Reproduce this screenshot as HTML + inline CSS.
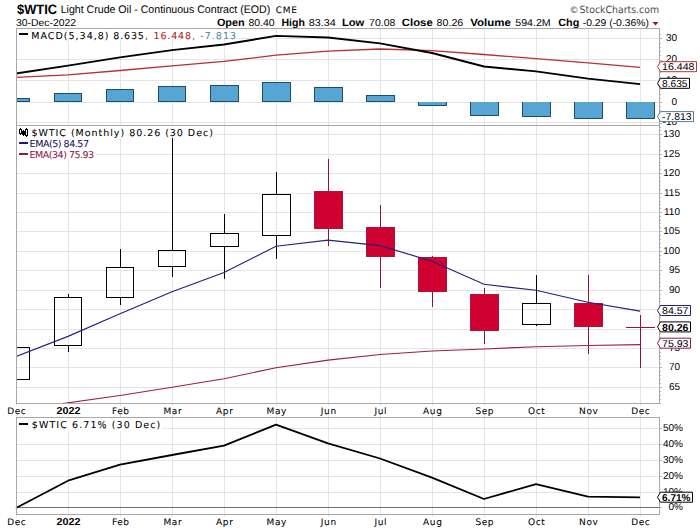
<!DOCTYPE html>
<html><head><meta charset="utf-8"><title>$WTIC Light Crude Oil - StockCharts</title>
<style>html,body{margin:0;padding:0;background:#fff;}svg{display:block;}</style></head>
<body><svg width="700" height="530" viewBox="0 0 700 530" shape-rendering="auto" text-rendering="geometricPrecision">
<rect width="700" height="530" fill="#fff"/>
<text x="17" y="13.5" font-family="'Liberation Sans', Arial, sans-serif" font-size="13.6" fill="#000" font-weight="bold" text-anchor="start" textLength="40" lengthAdjust="spacingAndGlyphs">$WTIC</text>
<text x="60.7" y="13" font-family="'Liberation Sans', Arial, sans-serif" font-size="11" fill="#000" font-weight="normal" text-anchor="start" textLength="209.5" lengthAdjust="spacingAndGlyphs">Light Crude Oil - Continuous Contract (EOD)</text>
<text x="275.8" y="13" font-family="'DejaVu Sans', Verdana, sans-serif" font-size="9" fill="#000" font-weight="normal" text-anchor="start" textLength="21.2" lengthAdjust="spacing" stroke="#000" stroke-width="0.06">CME</text>
<text x="569.6" y="12.6" font-family="'DejaVu Sans', Verdana, sans-serif" font-size="9" fill="#555" font-weight="normal" text-anchor="start" stroke="#555" stroke-width="0.06">&#169;</text>
<text x="579.6" y="12.6" font-family="'DejaVu Sans', Verdana, sans-serif" font-size="10" fill="#555" font-weight="normal" text-anchor="start" textLength="79.4" lengthAdjust="spacingAndGlyphs" stroke="#555" stroke-width="0.06">StockCharts.com</text>
<text x="16" y="25.7" font-family="'Liberation Sans', Arial, sans-serif" font-size="10" fill="#000" font-weight="normal" text-anchor="start" textLength="60" lengthAdjust="spacingAndGlyphs">30-Dec-2022</text>
<text x="216.9" y="25.5" font-family="'Liberation Sans', Arial, sans-serif" font-size="10.5" fill="#000" font-weight="bold" text-anchor="start" textLength="27.8" lengthAdjust="spacingAndGlyphs">Open</text>
<text x="248.4" y="25.5" font-family="'Liberation Sans', Arial, sans-serif" font-size="10" fill="#000" font-weight="normal" text-anchor="start" textLength="26.3" lengthAdjust="spacingAndGlyphs">80.40</text>
<text x="281.5" y="25.5" font-family="'Liberation Sans', Arial, sans-serif" font-size="10.5" fill="#000" font-weight="bold" text-anchor="start" textLength="23.4" lengthAdjust="spacingAndGlyphs">High</text>
<text x="308.7" y="25.5" font-family="'Liberation Sans', Arial, sans-serif" font-size="10" fill="#000" font-weight="normal" text-anchor="start" textLength="27.0" lengthAdjust="spacingAndGlyphs">83.34</text>
<text x="341.9" y="25.5" font-family="'Liberation Sans', Arial, sans-serif" font-size="10.5" fill="#000" font-weight="bold" text-anchor="start" textLength="22.4" lengthAdjust="spacingAndGlyphs">Low</text>
<text x="369.1" y="25.5" font-family="'Liberation Sans', Arial, sans-serif" font-size="10" fill="#000" font-weight="normal" text-anchor="start" textLength="26.3" lengthAdjust="spacingAndGlyphs">70.08</text>
<text x="401.8" y="25.5" font-family="'Liberation Sans', Arial, sans-serif" font-size="10.5" fill="#000" font-weight="bold" text-anchor="start" textLength="30.9" lengthAdjust="spacingAndGlyphs">Close</text>
<text x="436.6" y="25.5" font-family="'Liberation Sans', Arial, sans-serif" font-size="10" fill="#000" font-weight="normal" text-anchor="start" textLength="26.7" lengthAdjust="spacingAndGlyphs">80.26</text>
<text x="470.2" y="25.5" font-family="'Liberation Sans', Arial, sans-serif" font-size="10.5" fill="#000" font-weight="bold" text-anchor="start" textLength="40.7" lengthAdjust="spacingAndGlyphs">Volume</text>
<text x="515.3" y="25.5" font-family="'Liberation Sans', Arial, sans-serif" font-size="10" fill="#000" font-weight="normal" text-anchor="start" textLength="35.4" lengthAdjust="spacingAndGlyphs">594.2M</text>
<text x="558.3" y="25.5" font-family="'Liberation Sans', Arial, sans-serif" font-size="10.5" fill="#000" font-weight="bold" text-anchor="start" textLength="21.0" lengthAdjust="spacingAndGlyphs">Chg</text>
<text x="582.7" y="25.5" font-family="'Liberation Sans', Arial, sans-serif" font-size="10" fill="#000" font-weight="normal" text-anchor="start" textLength="66.3" lengthAdjust="spacingAndGlyphs">-0.29 (-0.36%)</text>
<path d="M652.5 22 L658.5 22 L655.5 25.5 Z" fill="#8b1a3a"/>
<line x1="68.5" y1="28" x2="68.5" y2="125" stroke="#e5e5e5" stroke-width="1"/>
<line x1="120.5" y1="28" x2="120.5" y2="125" stroke="#e5e5e5" stroke-width="1"/>
<line x1="172.5" y1="28" x2="172.5" y2="125" stroke="#e5e5e5" stroke-width="1"/>
<line x1="224.5" y1="28" x2="224.5" y2="125" stroke="#e5e5e5" stroke-width="1"/>
<line x1="276.5" y1="28" x2="276.5" y2="125" stroke="#e5e5e5" stroke-width="1"/>
<line x1="328.5" y1="28" x2="328.5" y2="125" stroke="#e5e5e5" stroke-width="1"/>
<line x1="380.5" y1="28" x2="380.5" y2="125" stroke="#e5e5e5" stroke-width="1"/>
<line x1="432.5" y1="28" x2="432.5" y2="125" stroke="#e5e5e5" stroke-width="1"/>
<line x1="484.5" y1="28" x2="484.5" y2="125" stroke="#e5e5e5" stroke-width="1"/>
<line x1="536.5" y1="28" x2="536.5" y2="125" stroke="#e5e5e5" stroke-width="1"/>
<line x1="588.5" y1="28" x2="588.5" y2="125" stroke="#e5e5e5" stroke-width="1"/>
<line x1="640.5" y1="28" x2="640.5" y2="125" stroke="#e5e5e5" stroke-width="1"/>
<line x1="16" y1="38.5" x2="659" y2="38.5" stroke="#e5e5e5" stroke-width="1"/>
<line x1="16" y1="59.5" x2="659" y2="59.5" stroke="#e5e5e5" stroke-width="1"/>
<line x1="16" y1="80.5" x2="659" y2="80.5" stroke="#e5e5e5" stroke-width="1"/>
<line x1="16" y1="102.5" x2="659" y2="102.5" stroke="#e5e5e5" stroke-width="1"/>
<line x1="16" y1="122.5" x2="659" y2="122.5" stroke="#e5e5e5" stroke-width="1"/>
<line x1="68.5" y1="125" x2="68.5" y2="403" stroke="#e5e5e5" stroke-width="1"/>
<line x1="120.5" y1="125" x2="120.5" y2="403" stroke="#e5e5e5" stroke-width="1"/>
<line x1="172.5" y1="125" x2="172.5" y2="403" stroke="#e5e5e5" stroke-width="1"/>
<line x1="224.5" y1="125" x2="224.5" y2="403" stroke="#e5e5e5" stroke-width="1"/>
<line x1="276.5" y1="125" x2="276.5" y2="403" stroke="#e5e5e5" stroke-width="1"/>
<line x1="328.5" y1="125" x2="328.5" y2="403" stroke="#e5e5e5" stroke-width="1"/>
<line x1="380.5" y1="125" x2="380.5" y2="403" stroke="#e5e5e5" stroke-width="1"/>
<line x1="432.5" y1="125" x2="432.5" y2="403" stroke="#e5e5e5" stroke-width="1"/>
<line x1="484.5" y1="125" x2="484.5" y2="403" stroke="#e5e5e5" stroke-width="1"/>
<line x1="536.5" y1="125" x2="536.5" y2="403" stroke="#e5e5e5" stroke-width="1"/>
<line x1="588.5" y1="125" x2="588.5" y2="403" stroke="#e5e5e5" stroke-width="1"/>
<line x1="640.5" y1="125" x2="640.5" y2="403" stroke="#e5e5e5" stroke-width="1"/>
<line x1="16" y1="134.5" x2="659" y2="134.5" stroke="#e5e5e5" stroke-width="1"/>
<line x1="16" y1="154.5" x2="659" y2="154.5" stroke="#e5e5e5" stroke-width="1"/>
<line x1="16" y1="173.5" x2="659" y2="173.5" stroke="#e5e5e5" stroke-width="1"/>
<line x1="16" y1="193.5" x2="659" y2="193.5" stroke="#e5e5e5" stroke-width="1"/>
<line x1="16" y1="212.5" x2="659" y2="212.5" stroke="#e5e5e5" stroke-width="1"/>
<line x1="16" y1="231.5" x2="659" y2="231.5" stroke="#e5e5e5" stroke-width="1"/>
<line x1="16" y1="251.5" x2="659" y2="251.5" stroke="#e5e5e5" stroke-width="1"/>
<line x1="16" y1="270.5" x2="659" y2="270.5" stroke="#e5e5e5" stroke-width="1"/>
<line x1="16" y1="290.5" x2="659" y2="290.5" stroke="#e5e5e5" stroke-width="1"/>
<line x1="16" y1="309.5" x2="659" y2="309.5" stroke="#e5e5e5" stroke-width="1"/>
<line x1="16" y1="329.5" x2="659" y2="329.5" stroke="#e5e5e5" stroke-width="1"/>
<line x1="16" y1="348.5" x2="659" y2="348.5" stroke="#e5e5e5" stroke-width="1"/>
<line x1="16" y1="367.5" x2="659" y2="367.5" stroke="#e5e5e5" stroke-width="1"/>
<line x1="16" y1="387.5" x2="659" y2="387.5" stroke="#e5e5e5" stroke-width="1"/>
<line x1="68.5" y1="417" x2="68.5" y2="514" stroke="#e5e5e5" stroke-width="1"/>
<line x1="120.5" y1="417" x2="120.5" y2="514" stroke="#e5e5e5" stroke-width="1"/>
<line x1="172.5" y1="417" x2="172.5" y2="514" stroke="#e5e5e5" stroke-width="1"/>
<line x1="224.5" y1="417" x2="224.5" y2="514" stroke="#e5e5e5" stroke-width="1"/>
<line x1="276.5" y1="417" x2="276.5" y2="514" stroke="#e5e5e5" stroke-width="1"/>
<line x1="328.5" y1="417" x2="328.5" y2="514" stroke="#e5e5e5" stroke-width="1"/>
<line x1="380.5" y1="417" x2="380.5" y2="514" stroke="#e5e5e5" stroke-width="1"/>
<line x1="432.5" y1="417" x2="432.5" y2="514" stroke="#e5e5e5" stroke-width="1"/>
<line x1="484.5" y1="417" x2="484.5" y2="514" stroke="#e5e5e5" stroke-width="1"/>
<line x1="536.5" y1="417" x2="536.5" y2="514" stroke="#e5e5e5" stroke-width="1"/>
<line x1="588.5" y1="417" x2="588.5" y2="514" stroke="#e5e5e5" stroke-width="1"/>
<line x1="640.5" y1="417" x2="640.5" y2="514" stroke="#e5e5e5" stroke-width="1"/>
<line x1="16" y1="428.5" x2="659" y2="428.5" stroke="#e5e5e5" stroke-width="1"/>
<line x1="16" y1="444.5" x2="659" y2="444.5" stroke="#e5e5e5" stroke-width="1"/>
<line x1="16" y1="460.5" x2="659" y2="460.5" stroke="#e5e5e5" stroke-width="1"/>
<line x1="16" y1="476.5" x2="659" y2="476.5" stroke="#e5e5e5" stroke-width="1"/>
<line x1="16" y1="492.5" x2="659" y2="492.5" stroke="#e5e5e5" stroke-width="1"/>
<line x1="16" y1="507.5" x2="659" y2="507.5" stroke="#707070" stroke-width="1"/>
<line x1="16.5" y1="403" x2="16.5" y2="406" stroke="#e5e5e5"/>
<line x1="16.5" y1="414" x2="16.5" y2="417" stroke="#e5e5e5"/>
<line x1="16.5" y1="514" x2="16.5" y2="517" stroke="#e5e5e5"/>
<line x1="68.5" y1="403" x2="68.5" y2="406" stroke="#e5e5e5"/>
<line x1="68.5" y1="414" x2="68.5" y2="417" stroke="#e5e5e5"/>
<line x1="68.5" y1="514" x2="68.5" y2="517" stroke="#e5e5e5"/>
<line x1="120.5" y1="403" x2="120.5" y2="406" stroke="#e5e5e5"/>
<line x1="120.5" y1="414" x2="120.5" y2="417" stroke="#e5e5e5"/>
<line x1="120.5" y1="514" x2="120.5" y2="517" stroke="#e5e5e5"/>
<line x1="172.5" y1="403" x2="172.5" y2="406" stroke="#e5e5e5"/>
<line x1="172.5" y1="414" x2="172.5" y2="417" stroke="#e5e5e5"/>
<line x1="172.5" y1="514" x2="172.5" y2="517" stroke="#e5e5e5"/>
<line x1="224.5" y1="403" x2="224.5" y2="406" stroke="#e5e5e5"/>
<line x1="224.5" y1="414" x2="224.5" y2="417" stroke="#e5e5e5"/>
<line x1="224.5" y1="514" x2="224.5" y2="517" stroke="#e5e5e5"/>
<line x1="276.5" y1="403" x2="276.5" y2="406" stroke="#e5e5e5"/>
<line x1="276.5" y1="414" x2="276.5" y2="417" stroke="#e5e5e5"/>
<line x1="276.5" y1="514" x2="276.5" y2="517" stroke="#e5e5e5"/>
<line x1="328.5" y1="403" x2="328.5" y2="406" stroke="#e5e5e5"/>
<line x1="328.5" y1="414" x2="328.5" y2="417" stroke="#e5e5e5"/>
<line x1="328.5" y1="514" x2="328.5" y2="517" stroke="#e5e5e5"/>
<line x1="380.5" y1="403" x2="380.5" y2="406" stroke="#e5e5e5"/>
<line x1="380.5" y1="414" x2="380.5" y2="417" stroke="#e5e5e5"/>
<line x1="380.5" y1="514" x2="380.5" y2="517" stroke="#e5e5e5"/>
<line x1="432.5" y1="403" x2="432.5" y2="406" stroke="#e5e5e5"/>
<line x1="432.5" y1="414" x2="432.5" y2="417" stroke="#e5e5e5"/>
<line x1="432.5" y1="514" x2="432.5" y2="517" stroke="#e5e5e5"/>
<line x1="484.5" y1="403" x2="484.5" y2="406" stroke="#e5e5e5"/>
<line x1="484.5" y1="414" x2="484.5" y2="417" stroke="#e5e5e5"/>
<line x1="484.5" y1="514" x2="484.5" y2="517" stroke="#e5e5e5"/>
<line x1="536.5" y1="403" x2="536.5" y2="406" stroke="#e5e5e5"/>
<line x1="536.5" y1="414" x2="536.5" y2="417" stroke="#e5e5e5"/>
<line x1="536.5" y1="514" x2="536.5" y2="517" stroke="#e5e5e5"/>
<line x1="588.5" y1="403" x2="588.5" y2="406" stroke="#e5e5e5"/>
<line x1="588.5" y1="414" x2="588.5" y2="417" stroke="#e5e5e5"/>
<line x1="588.5" y1="514" x2="588.5" y2="517" stroke="#e5e5e5"/>
<line x1="640.5" y1="403" x2="640.5" y2="406" stroke="#e5e5e5"/>
<line x1="640.5" y1="414" x2="640.5" y2="417" stroke="#e5e5e5"/>
<line x1="640.5" y1="514" x2="640.5" y2="517" stroke="#e5e5e5"/>
<g>
<rect x="16.5" y="98.5" width="13" height="3.0" fill="#56a5d2" stroke="#1e4d6b" stroke-width="1"/>
<rect x="54.5" y="93.5" width="27" height="8.0" fill="#56a5d2" stroke="#1e4d6b" stroke-width="1"/>
<rect x="106.5" y="89.5" width="27" height="12.0" fill="#56a5d2" stroke="#1e4d6b" stroke-width="1"/>
<rect x="158.5" y="86.5" width="27" height="15.0" fill="#56a5d2" stroke="#1e4d6b" stroke-width="1"/>
<rect x="210.5" y="85.5" width="28" height="16.0" fill="#56a5d2" stroke="#1e4d6b" stroke-width="1"/>
<rect x="262.5" y="82.5" width="28" height="19.0" fill="#56a5d2" stroke="#1e4d6b" stroke-width="1"/>
<rect x="314.5" y="87.5" width="28" height="14.0" fill="#56a5d2" stroke="#1e4d6b" stroke-width="1"/>
<rect x="366.5" y="95.5" width="28" height="6.0" fill="#56a5d2" stroke="#1e4d6b" stroke-width="1"/>
<rect x="418.0" y="102" width="29" height="4" fill="#56a5d2"/>
<path d="M418.5 102 L418.5 105.5 L446.5 105.5 L446.5 102" fill="none" stroke="#1e4d6b" stroke-width="1"/>
<rect x="470.0" y="102" width="29" height="14" fill="#56a5d2"/>
<path d="M470.5 102 L470.5 115.5 L498.5 115.5 L498.5 102" fill="none" stroke="#1e4d6b" stroke-width="1"/>
<rect x="522.0" y="102" width="29" height="15" fill="#56a5d2"/>
<path d="M522.5 102 L522.5 116.5 L550.5 116.5 L550.5 102" fill="none" stroke="#1e4d6b" stroke-width="1"/>
<rect x="574.0" y="102" width="29" height="17" fill="#56a5d2"/>
<path d="M574.5 102 L574.5 118.5 L602.5 118.5 L602.5 102" fill="none" stroke="#1e4d6b" stroke-width="1"/>
<rect x="626.0" y="102" width="29" height="17" fill="#56a5d2"/>
<path d="M626.5 102 L626.5 118.5 L654.5 118.5 L654.5 102" fill="none" stroke="#1e4d6b" stroke-width="1"/>
</g>
<polyline points="16,77.4 68,74.8 120,70.5 172,65.9 224,61.3 276,55.2 328,51.2 380,49.0 432,50.6 484,54.5 536,58.6 588,62.8 640,67.4" fill="none" stroke="#b83030" stroke-width="1.3"/>
<polyline points="16,73.5 68,65.6 120,57.4 172,50.2 224,44.5 276,35.9 328,37.5 380,43.4 432,53 484,66.5 536,71.4 588,78.7 640,84.2" fill="none" stroke="#000" stroke-width="1.85" stroke-linejoin="round"/>
<svg x="17" y="126" width="642" height="277" overflow="hidden"><g transform="translate(-17,-126)">
<rect x="2.5" y="347.5" width="27" height="32" fill="none" stroke="#000" stroke-width="1"/>
<line x1="68.5" y1="294" x2="68.5" y2="297" stroke="#000" stroke-width="1"/>
<line x1="68.5" y1="346" x2="68.5" y2="352" stroke="#000" stroke-width="1"/>
<rect x="54.5" y="297.5" width="27" height="48" fill="none" stroke="#000" stroke-width="1"/>
<line x1="120.5" y1="249" x2="120.5" y2="267" stroke="#000" stroke-width="1"/>
<line x1="120.5" y1="298" x2="120.5" y2="305" stroke="#000" stroke-width="1"/>
<rect x="106.5" y="267.5" width="27" height="30" fill="none" stroke="#000" stroke-width="1"/>
<line x1="172.5" y1="138" x2="172.5" y2="250" stroke="#000" stroke-width="1"/>
<line x1="172.5" y1="267" x2="172.5" y2="277" stroke="#000" stroke-width="1"/>
<rect x="158.5" y="250.5" width="27" height="16" fill="none" stroke="#000" stroke-width="1"/>
<line x1="224.5" y1="214" x2="224.5" y2="233" stroke="#000" stroke-width="1"/>
<line x1="224.5" y1="247" x2="224.5" y2="279" stroke="#000" stroke-width="1"/>
<rect x="210.5" y="233.5" width="28" height="13" fill="none" stroke="#000" stroke-width="1"/>
<line x1="276.5" y1="172" x2="276.5" y2="194" stroke="#000" stroke-width="1"/>
<line x1="276.5" y1="236" x2="276.5" y2="259" stroke="#000" stroke-width="1"/>
<rect x="262.5" y="194.5" width="28" height="41" fill="none" stroke="#000" stroke-width="1"/>
<line x1="328.5" y1="159" x2="328.5" y2="246" stroke="#8b1538" stroke-width="1"/>
<rect x="314.5" y="191.5" width="28" height="37" fill="#d00030" stroke="#a8163c" stroke-width="1"/>
<line x1="380.5" y1="205" x2="380.5" y2="288" stroke="#8b1538" stroke-width="1"/>
<rect x="366.5" y="227.5" width="28" height="29" fill="#d00030" stroke="#a8163c" stroke-width="1"/>
<line x1="432.5" y1="256" x2="432.5" y2="307" stroke="#8b1538" stroke-width="1"/>
<rect x="418.5" y="257.5" width="28" height="34" fill="#d00030" stroke="#a8163c" stroke-width="1"/>
<line x1="484.5" y1="288" x2="484.5" y2="344" stroke="#8b1538" stroke-width="1"/>
<rect x="470.5" y="294.5" width="28" height="36" fill="#d00030" stroke="#a8163c" stroke-width="1"/>
<line x1="536.5" y1="275" x2="536.5" y2="303" stroke="#000" stroke-width="1"/>
<line x1="536.5" y1="325" x2="536.5" y2="326" stroke="#000" stroke-width="1"/>
<rect x="522.5" y="303.5" width="28" height="21" fill="none" stroke="#000" stroke-width="1"/>
<line x1="588.5" y1="275" x2="588.5" y2="354" stroke="#8b1538" stroke-width="1"/>
<rect x="574.5" y="303.5" width="28" height="23" fill="#d00030" stroke="#a8163c" stroke-width="1"/>
<line x1="640.5" y1="315" x2="640.5" y2="368" stroke="#8b1538" stroke-width="1"/>
<rect x="626" y="327" width="29" height="1" fill="#a01040"/>
<polyline points="16,410 68,402.8 120,395.5 172,387.3 224,378.7 276,367.8 328,360.1 380,354.5 432,351 484,349 536,346.7 588,345.5 640,344.6" fill="none" stroke="#9a1e48" stroke-width="1.15"/>
<polyline points="16,356.4 68,336.4 120,313.8 172,291.8 224,272.5 276,246.3 328,240.2 380,245.6 432,261.2 484,284.3 536,290.3 588,302.3 640,311.1" fill="none" stroke="#22227a" stroke-width="1.15"/>
</g></svg>
<polyline points="16,508.0 68,480.7 120,464.6 172,455.0 224,445.7 276,424.6 328,443.4 380,458.5 432,477.7 484,499.0 536,484.1 588,496.7 640,497.3" fill="none" stroke="#000" stroke-width="1.8" stroke-linejoin="round"/>
<rect x="16.5" y="28.5" width="643" height="97" fill="none" stroke="#a8a8a8"/>
<rect x="16.5" y="125.5" width="643" height="278" fill="none" stroke="#a8a8a8"/>
<rect x="16.5" y="417.5" width="643" height="97" fill="none" stroke="#a8a8a8"/>
<rect x="17" y="29" width="220" height="10" fill="#fff"/>
<rect x="19" y="33" width="9" height="2" fill="#000"/>
<text y="38.6" font-family="'DejaVu Sans', Verdana, sans-serif" font-size="9.5" stroke="#000" stroke-width="0.06"><tspan x="31.3" textLength="77.2" lengthAdjust="spacing">MACD(5,34,8)</tspan><tspan x="113.3" textLength="30.6" lengthAdjust="spacing">8.635</tspan><tspan x="145" fill="#b02020" stroke="#b02020">,</tspan><tspan x="153.6" fill="#b02020" stroke="#b02020" textLength="37.4" lengthAdjust="spacing">16.448</tspan><tspan x="192" fill="#4a86a8" stroke="#4a86a8">,</tspan><tspan x="200.3" fill="#4a86a8" stroke="#4a86a8" textLength="35.7" lengthAdjust="spacing">-7.813</tspan></text>
<rect x="17" y="126" width="197" height="12" fill="#fff"/>
<rect x="17" y="138" width="75" height="11" fill="#fff"/>
<rect x="17" y="149" width="79" height="10" fill="#fff"/>
<g fill="#000"><rect x="19" y="129" width="3" height="5"/><rect x="20" y="128" width="1" height="7"/><rect x="22" y="131" width="3" height="4"/><rect x="23" y="130" width="1" height="6"/><rect x="25" y="129" width="3" height="7"/><rect x="26" y="128" width="1" height="9"/></g><g fill="#fff"><rect x="20" y="130" width="1" height="3"/><rect x="26" y="130" width="1" height="5"/></g>
<text x="31.4" y="135.6" font-family="'DejaVu Sans', Verdana, sans-serif" font-size="9.5" fill="#000" font-weight="normal" text-anchor="start" textLength="181.5" lengthAdjust="spacing" stroke="#000" stroke-width="0.06">$WTIC (Monthly) 80.26 (30 Dec)</text>
<rect x="19" y="142" width="9" height="2" fill="#1a1a80"/>
<text x="29.6" y="146.7" font-family="'DejaVu Sans', Verdana, sans-serif" font-size="9.5" fill="#15155c" font-weight="normal" text-anchor="start" textLength="59.4" lengthAdjust="spacing" stroke="#15155c" stroke-width="0.06">EMA(5) 84.57</text>
<rect x="19" y="153" width="9" height="2" fill="#8b1a4a"/>
<text x="29.6" y="157.6" font-family="'DejaVu Sans', Verdana, sans-serif" font-size="9.5" fill="#8b1a4a" font-weight="normal" text-anchor="start" textLength="64.5" lengthAdjust="spacing" stroke="#8b1a4a" stroke-width="0.06">EMA(34) 75.93</text>
<rect x="17" y="418" width="145" height="13" fill="#fff"/>
<rect x="19" y="423" width="9" height="2" fill="#000"/>
<text x="31.8" y="427.6" font-family="'DejaVu Sans', Verdana, sans-serif" font-size="9.5" fill="#000" font-weight="normal" text-anchor="start" textLength="128.5" lengthAdjust="spacing" stroke="#000" stroke-width="0.06">$WTIC 6.71% (30 Dec)</text>
<text x="16.8" y="413.6" font-family="'DejaVu Sans', Verdana, sans-serif" font-size="9" fill="#000" font-weight="normal" text-anchor="middle" letter-spacing="0.6" stroke="#000" stroke-width="0.06">Dec</text>
<text x="68.5" y="413.6" font-family="'Liberation Sans', Arial, sans-serif" font-size="10" fill="#000" font-weight="bold" text-anchor="middle" textLength="24" lengthAdjust="spacingAndGlyphs">2022</text>
<text x="120.8" y="413.6" font-family="'DejaVu Sans', Verdana, sans-serif" font-size="9" fill="#000" font-weight="normal" text-anchor="middle" letter-spacing="0.6" stroke="#000" stroke-width="0.06">Feb</text>
<text x="172.8" y="413.6" font-family="'DejaVu Sans', Verdana, sans-serif" font-size="9" fill="#000" font-weight="normal" text-anchor="middle" letter-spacing="0.6" stroke="#000" stroke-width="0.06">Mar</text>
<text x="224.8" y="413.6" font-family="'DejaVu Sans', Verdana, sans-serif" font-size="9" fill="#000" font-weight="normal" text-anchor="middle" letter-spacing="0.6" stroke="#000" stroke-width="0.06">Apr</text>
<text x="276.8" y="413.6" font-family="'DejaVu Sans', Verdana, sans-serif" font-size="9" fill="#000" font-weight="normal" text-anchor="middle" letter-spacing="0.6" stroke="#000" stroke-width="0.06">May</text>
<text x="328.8" y="413.6" font-family="'DejaVu Sans', Verdana, sans-serif" font-size="9" fill="#000" font-weight="normal" text-anchor="middle" letter-spacing="0.6" stroke="#000" stroke-width="0.06">Jun</text>
<text x="380.8" y="413.6" font-family="'DejaVu Sans', Verdana, sans-serif" font-size="9" fill="#000" font-weight="normal" text-anchor="middle" letter-spacing="0.6" stroke="#000" stroke-width="0.06">Jul</text>
<text x="432.8" y="413.6" font-family="'DejaVu Sans', Verdana, sans-serif" font-size="9" fill="#000" font-weight="normal" text-anchor="middle" letter-spacing="0.6" stroke="#000" stroke-width="0.06">Aug</text>
<text x="484.8" y="413.6" font-family="'DejaVu Sans', Verdana, sans-serif" font-size="9" fill="#000" font-weight="normal" text-anchor="middle" letter-spacing="0.6" stroke="#000" stroke-width="0.06">Sep</text>
<text x="536.8" y="413.6" font-family="'DejaVu Sans', Verdana, sans-serif" font-size="9" fill="#000" font-weight="normal" text-anchor="middle" letter-spacing="0.6" stroke="#000" stroke-width="0.06">Oct</text>
<text x="588.8" y="413.6" font-family="'DejaVu Sans', Verdana, sans-serif" font-size="9" fill="#000" font-weight="normal" text-anchor="middle" letter-spacing="0.6" stroke="#000" stroke-width="0.06">Nov</text>
<text x="640.8" y="413.6" font-family="'DejaVu Sans', Verdana, sans-serif" font-size="9" fill="#000" font-weight="normal" text-anchor="middle" letter-spacing="0.6" stroke="#000" stroke-width="0.06">Dec</text>
<text x="16.8" y="524.5" font-family="'DejaVu Sans', Verdana, sans-serif" font-size="9" fill="#000" font-weight="normal" text-anchor="middle" letter-spacing="0.6" stroke="#000" stroke-width="0.06">Dec</text>
<text x="68.5" y="524.5" font-family="'Liberation Sans', Arial, sans-serif" font-size="10" fill="#000" font-weight="bold" text-anchor="middle" textLength="24" lengthAdjust="spacingAndGlyphs">2022</text>
<text x="120.8" y="524.5" font-family="'DejaVu Sans', Verdana, sans-serif" font-size="9" fill="#000" font-weight="normal" text-anchor="middle" letter-spacing="0.6" stroke="#000" stroke-width="0.06">Feb</text>
<text x="172.8" y="524.5" font-family="'DejaVu Sans', Verdana, sans-serif" font-size="9" fill="#000" font-weight="normal" text-anchor="middle" letter-spacing="0.6" stroke="#000" stroke-width="0.06">Mar</text>
<text x="224.8" y="524.5" font-family="'DejaVu Sans', Verdana, sans-serif" font-size="9" fill="#000" font-weight="normal" text-anchor="middle" letter-spacing="0.6" stroke="#000" stroke-width="0.06">Apr</text>
<text x="276.8" y="524.5" font-family="'DejaVu Sans', Verdana, sans-serif" font-size="9" fill="#000" font-weight="normal" text-anchor="middle" letter-spacing="0.6" stroke="#000" stroke-width="0.06">May</text>
<text x="328.8" y="524.5" font-family="'DejaVu Sans', Verdana, sans-serif" font-size="9" fill="#000" font-weight="normal" text-anchor="middle" letter-spacing="0.6" stroke="#000" stroke-width="0.06">Jun</text>
<text x="380.8" y="524.5" font-family="'DejaVu Sans', Verdana, sans-serif" font-size="9" fill="#000" font-weight="normal" text-anchor="middle" letter-spacing="0.6" stroke="#000" stroke-width="0.06">Jul</text>
<text x="432.8" y="524.5" font-family="'DejaVu Sans', Verdana, sans-serif" font-size="9" fill="#000" font-weight="normal" text-anchor="middle" letter-spacing="0.6" stroke="#000" stroke-width="0.06">Aug</text>
<text x="484.8" y="524.5" font-family="'DejaVu Sans', Verdana, sans-serif" font-size="9" fill="#000" font-weight="normal" text-anchor="middle" letter-spacing="0.6" stroke="#000" stroke-width="0.06">Sep</text>
<text x="536.8" y="524.5" font-family="'DejaVu Sans', Verdana, sans-serif" font-size="9" fill="#000" font-weight="normal" text-anchor="middle" letter-spacing="0.6" stroke="#000" stroke-width="0.06">Oct</text>
<text x="588.8" y="524.5" font-family="'DejaVu Sans', Verdana, sans-serif" font-size="9" fill="#000" font-weight="normal" text-anchor="middle" letter-spacing="0.6" stroke="#000" stroke-width="0.06">Nov</text>
<text x="640.8" y="524.5" font-family="'DejaVu Sans', Verdana, sans-serif" font-size="9" fill="#000" font-weight="normal" text-anchor="middle" letter-spacing="0.6" stroke="#000" stroke-width="0.06">Dec</text>
<line x1="660" y1="123.5" x2="662" y2="123.5" stroke="#b4b4b4" stroke-width="1"/>
<line x1="660" y1="119.5" x2="661" y2="119.5" stroke="#b4b4b4" stroke-width="1"/>
<line x1="660" y1="115.5" x2="661" y2="115.5" stroke="#b4b4b4" stroke-width="1"/>
<line x1="660" y1="110.5" x2="661" y2="110.5" stroke="#b4b4b4" stroke-width="1"/>
<line x1="660" y1="106.5" x2="661" y2="106.5" stroke="#b4b4b4" stroke-width="1"/>
<line x1="660" y1="102.5" x2="662" y2="102.5" stroke="#b4b4b4" stroke-width="1"/>
<line x1="660" y1="98.5" x2="661" y2="98.5" stroke="#b4b4b4" stroke-width="1"/>
<line x1="660" y1="94.5" x2="661" y2="94.5" stroke="#b4b4b4" stroke-width="1"/>
<line x1="660" y1="89.5" x2="661" y2="89.5" stroke="#b4b4b4" stroke-width="1"/>
<line x1="660" y1="85.5" x2="661" y2="85.5" stroke="#b4b4b4" stroke-width="1"/>
<line x1="660" y1="81.5" x2="662" y2="81.5" stroke="#b4b4b4" stroke-width="1"/>
<line x1="660" y1="77.5" x2="661" y2="77.5" stroke="#b4b4b4" stroke-width="1"/>
<line x1="660" y1="72.5" x2="661" y2="72.5" stroke="#b4b4b4" stroke-width="1"/>
<line x1="660" y1="68.5" x2="661" y2="68.5" stroke="#b4b4b4" stroke-width="1"/>
<line x1="660" y1="64.5" x2="661" y2="64.5" stroke="#b4b4b4" stroke-width="1"/>
<line x1="660" y1="60.5" x2="662" y2="60.5" stroke="#b4b4b4" stroke-width="1"/>
<line x1="660" y1="55.5" x2="661" y2="55.5" stroke="#b4b4b4" stroke-width="1"/>
<line x1="660" y1="51.5" x2="661" y2="51.5" stroke="#b4b4b4" stroke-width="1"/>
<line x1="660" y1="47.5" x2="661" y2="47.5" stroke="#b4b4b4" stroke-width="1"/>
<line x1="660" y1="43.5" x2="661" y2="43.5" stroke="#b4b4b4" stroke-width="1"/>
<line x1="660" y1="38.5" x2="662" y2="38.5" stroke="#b4b4b4" stroke-width="1"/>
<line x1="660" y1="34.5" x2="661" y2="34.5" stroke="#b4b4b4" stroke-width="1"/>
<line x1="660" y1="403.5" x2="661" y2="403.5" stroke="#b4b4b4" stroke-width="1"/>
<line x1="660" y1="399.5" x2="661" y2="399.5" stroke="#b4b4b4" stroke-width="1"/>
<line x1="660" y1="395.5" x2="661" y2="395.5" stroke="#b4b4b4" stroke-width="1"/>
<line x1="660" y1="391.5" x2="661" y2="391.5" stroke="#b4b4b4" stroke-width="1"/>
<line x1="660" y1="387.5" x2="662" y2="387.5" stroke="#b4b4b4" stroke-width="1"/>
<line x1="660" y1="383.5" x2="661" y2="383.5" stroke="#b4b4b4" stroke-width="1"/>
<line x1="660" y1="379.5" x2="661" y2="379.5" stroke="#b4b4b4" stroke-width="1"/>
<line x1="660" y1="375.5" x2="661" y2="375.5" stroke="#b4b4b4" stroke-width="1"/>
<line x1="660" y1="371.5" x2="661" y2="371.5" stroke="#b4b4b4" stroke-width="1"/>
<line x1="660" y1="367.5" x2="662" y2="367.5" stroke="#b4b4b4" stroke-width="1"/>
<line x1="660" y1="363.5" x2="661" y2="363.5" stroke="#b4b4b4" stroke-width="1"/>
<line x1="660" y1="359.5" x2="661" y2="359.5" stroke="#b4b4b4" stroke-width="1"/>
<line x1="660" y1="356.5" x2="661" y2="356.5" stroke="#b4b4b4" stroke-width="1"/>
<line x1="660" y1="352.5" x2="661" y2="352.5" stroke="#b4b4b4" stroke-width="1"/>
<line x1="660" y1="348.5" x2="662" y2="348.5" stroke="#b4b4b4" stroke-width="1"/>
<line x1="660" y1="344.5" x2="661" y2="344.5" stroke="#b4b4b4" stroke-width="1"/>
<line x1="660" y1="340.5" x2="661" y2="340.5" stroke="#b4b4b4" stroke-width="1"/>
<line x1="660" y1="337.5" x2="661" y2="337.5" stroke="#b4b4b4" stroke-width="1"/>
<line x1="660" y1="333.5" x2="661" y2="333.5" stroke="#b4b4b4" stroke-width="1"/>
<line x1="660" y1="329.5" x2="662" y2="329.5" stroke="#b4b4b4" stroke-width="1"/>
<line x1="660" y1="325.5" x2="661" y2="325.5" stroke="#b4b4b4" stroke-width="1"/>
<line x1="660" y1="321.5" x2="661" y2="321.5" stroke="#b4b4b4" stroke-width="1"/>
<line x1="660" y1="317.5" x2="661" y2="317.5" stroke="#b4b4b4" stroke-width="1"/>
<line x1="660" y1="313.5" x2="661" y2="313.5" stroke="#b4b4b4" stroke-width="1"/>
<line x1="660" y1="309.5" x2="662" y2="309.5" stroke="#b4b4b4" stroke-width="1"/>
<line x1="660" y1="305.5" x2="661" y2="305.5" stroke="#b4b4b4" stroke-width="1"/>
<line x1="660" y1="301.5" x2="661" y2="301.5" stroke="#b4b4b4" stroke-width="1"/>
<line x1="660" y1="298.5" x2="661" y2="298.5" stroke="#b4b4b4" stroke-width="1"/>
<line x1="660" y1="294.5" x2="661" y2="294.5" stroke="#b4b4b4" stroke-width="1"/>
<line x1="660" y1="290.5" x2="662" y2="290.5" stroke="#b4b4b4" stroke-width="1"/>
<line x1="660" y1="286.5" x2="661" y2="286.5" stroke="#b4b4b4" stroke-width="1"/>
<line x1="660" y1="282.5" x2="661" y2="282.5" stroke="#b4b4b4" stroke-width="1"/>
<line x1="660" y1="278.5" x2="661" y2="278.5" stroke="#b4b4b4" stroke-width="1"/>
<line x1="660" y1="274.5" x2="661" y2="274.5" stroke="#b4b4b4" stroke-width="1"/>
<line x1="660" y1="270.5" x2="662" y2="270.5" stroke="#b4b4b4" stroke-width="1"/>
<line x1="660" y1="266.5" x2="661" y2="266.5" stroke="#b4b4b4" stroke-width="1"/>
<line x1="660" y1="262.5" x2="661" y2="262.5" stroke="#b4b4b4" stroke-width="1"/>
<line x1="660" y1="259.5" x2="661" y2="259.5" stroke="#b4b4b4" stroke-width="1"/>
<line x1="660" y1="255.5" x2="661" y2="255.5" stroke="#b4b4b4" stroke-width="1"/>
<line x1="660" y1="251.5" x2="662" y2="251.5" stroke="#b4b4b4" stroke-width="1"/>
<line x1="660" y1="247.5" x2="661" y2="247.5" stroke="#b4b4b4" stroke-width="1"/>
<line x1="660" y1="243.5" x2="661" y2="243.5" stroke="#b4b4b4" stroke-width="1"/>
<line x1="660" y1="239.5" x2="661" y2="239.5" stroke="#b4b4b4" stroke-width="1"/>
<line x1="660" y1="235.5" x2="661" y2="235.5" stroke="#b4b4b4" stroke-width="1"/>
<line x1="660" y1="231.5" x2="662" y2="231.5" stroke="#b4b4b4" stroke-width="1"/>
<line x1="660" y1="227.5" x2="661" y2="227.5" stroke="#b4b4b4" stroke-width="1"/>
<line x1="660" y1="223.5" x2="661" y2="223.5" stroke="#b4b4b4" stroke-width="1"/>
<line x1="660" y1="220.5" x2="661" y2="220.5" stroke="#b4b4b4" stroke-width="1"/>
<line x1="660" y1="216.5" x2="661" y2="216.5" stroke="#b4b4b4" stroke-width="1"/>
<line x1="660" y1="212.5" x2="662" y2="212.5" stroke="#b4b4b4" stroke-width="1"/>
<line x1="660" y1="208.5" x2="661" y2="208.5" stroke="#b4b4b4" stroke-width="1"/>
<line x1="660" y1="204.5" x2="661" y2="204.5" stroke="#b4b4b4" stroke-width="1"/>
<line x1="660" y1="201.5" x2="661" y2="201.5" stroke="#b4b4b4" stroke-width="1"/>
<line x1="660" y1="197.5" x2="661" y2="197.5" stroke="#b4b4b4" stroke-width="1"/>
<line x1="660" y1="193.5" x2="662" y2="193.5" stroke="#b4b4b4" stroke-width="1"/>
<line x1="660" y1="189.5" x2="661" y2="189.5" stroke="#b4b4b4" stroke-width="1"/>
<line x1="660" y1="185.5" x2="661" y2="185.5" stroke="#b4b4b4" stroke-width="1"/>
<line x1="660" y1="181.5" x2="661" y2="181.5" stroke="#b4b4b4" stroke-width="1"/>
<line x1="660" y1="177.5" x2="661" y2="177.5" stroke="#b4b4b4" stroke-width="1"/>
<line x1="660" y1="173.5" x2="662" y2="173.5" stroke="#b4b4b4" stroke-width="1"/>
<line x1="660" y1="169.5" x2="661" y2="169.5" stroke="#b4b4b4" stroke-width="1"/>
<line x1="660" y1="165.5" x2="661" y2="165.5" stroke="#b4b4b4" stroke-width="1"/>
<line x1="660" y1="162.5" x2="661" y2="162.5" stroke="#b4b4b4" stroke-width="1"/>
<line x1="660" y1="158.5" x2="661" y2="158.5" stroke="#b4b4b4" stroke-width="1"/>
<line x1="660" y1="154.5" x2="662" y2="154.5" stroke="#b4b4b4" stroke-width="1"/>
<line x1="660" y1="150.5" x2="661" y2="150.5" stroke="#b4b4b4" stroke-width="1"/>
<line x1="660" y1="146.5" x2="661" y2="146.5" stroke="#b4b4b4" stroke-width="1"/>
<line x1="660" y1="142.5" x2="661" y2="142.5" stroke="#b4b4b4" stroke-width="1"/>
<line x1="660" y1="138.5" x2="661" y2="138.5" stroke="#b4b4b4" stroke-width="1"/>
<line x1="660" y1="134.5" x2="662" y2="134.5" stroke="#b4b4b4" stroke-width="1"/>
<line x1="660" y1="130.5" x2="661" y2="130.5" stroke="#b4b4b4" stroke-width="1"/>
<line x1="660" y1="127.5" x2="661" y2="127.5" stroke="#b4b4b4" stroke-width="1"/>
<line x1="660" y1="428.5" x2="662" y2="428.5" stroke="#b4b4b4" stroke-width="1"/>
<line x1="660" y1="444.5" x2="662" y2="444.5" stroke="#b4b4b4" stroke-width="1"/>
<line x1="660" y1="460.5" x2="662" y2="460.5" stroke="#b4b4b4" stroke-width="1"/>
<line x1="660" y1="476.5" x2="662" y2="476.5" stroke="#b4b4b4" stroke-width="1"/>
<line x1="660" y1="492.5" x2="662" y2="492.5" stroke="#b4b4b4" stroke-width="1"/>
<line x1="660" y1="507.5" x2="662" y2="507.5" stroke="#b4b4b4" stroke-width="1"/>
<svg x="660" y="28" width="40" height="97" overflow="hidden"><g transform="translate(-660,-28)">
<text x="677" y="41.3" font-family="'Liberation Sans', Arial, sans-serif" font-size="10" fill="#000" font-weight="normal" text-anchor="end">30</text>
<text x="677" y="62.3" font-family="'Liberation Sans', Arial, sans-serif" font-size="10" fill="#000" font-weight="normal" text-anchor="end">20</text>
<text x="677" y="83.3" font-family="'Liberation Sans', Arial, sans-serif" font-size="10" fill="#000" font-weight="normal" text-anchor="end">10</text>
<text x="677" y="105.3" font-family="'Liberation Sans', Arial, sans-serif" font-size="10" fill="#000" font-weight="normal" text-anchor="end">0</text>
<text x="677" y="125.3" font-family="'Liberation Sans', Arial, sans-serif" font-size="10" fill="#000" font-weight="normal" text-anchor="end">-10</text>
</g></svg>
<text x="680" y="136.9" font-family="'Liberation Sans', Arial, sans-serif" font-size="10" fill="#000" font-weight="normal" text-anchor="end">130</text>
<text x="680" y="156.9" font-family="'Liberation Sans', Arial, sans-serif" font-size="10" fill="#000" font-weight="normal" text-anchor="end">125</text>
<text x="680" y="175.9" font-family="'Liberation Sans', Arial, sans-serif" font-size="10" fill="#000" font-weight="normal" text-anchor="end">120</text>
<text x="680" y="195.9" font-family="'Liberation Sans', Arial, sans-serif" font-size="10" fill="#000" font-weight="normal" text-anchor="end">115</text>
<text x="680" y="214.9" font-family="'Liberation Sans', Arial, sans-serif" font-size="10" fill="#000" font-weight="normal" text-anchor="end">110</text>
<text x="680" y="233.9" font-family="'Liberation Sans', Arial, sans-serif" font-size="10" fill="#000" font-weight="normal" text-anchor="end">105</text>
<text x="680" y="253.9" font-family="'Liberation Sans', Arial, sans-serif" font-size="10" fill="#000" font-weight="normal" text-anchor="end">100</text>
<text x="680" y="272.9" font-family="'Liberation Sans', Arial, sans-serif" font-size="10" fill="#000" font-weight="normal" text-anchor="end">95</text>
<text x="680" y="292.9" font-family="'Liberation Sans', Arial, sans-serif" font-size="10" fill="#000" font-weight="normal" text-anchor="end">90</text>
<text x="680" y="311.9" font-family="'Liberation Sans', Arial, sans-serif" font-size="10" fill="#000" font-weight="normal" text-anchor="end">85</text>
<text x="680" y="331.9" font-family="'Liberation Sans', Arial, sans-serif" font-size="10" fill="#000" font-weight="normal" text-anchor="end">80</text>
<text x="680" y="350.9" font-family="'Liberation Sans', Arial, sans-serif" font-size="10" fill="#000" font-weight="normal" text-anchor="end">75</text>
<text x="680" y="369.9" font-family="'Liberation Sans', Arial, sans-serif" font-size="10" fill="#000" font-weight="normal" text-anchor="end">70</text>
<text x="680" y="389.9" font-family="'Liberation Sans', Arial, sans-serif" font-size="10" fill="#000" font-weight="normal" text-anchor="end">65</text>
<text x="683" y="509.8" font-family="'Liberation Sans', Arial, sans-serif" font-size="10" fill="#000" font-weight="normal" text-anchor="end">0%</text>
<text x="683" y="494.8" font-family="'Liberation Sans', Arial, sans-serif" font-size="10" fill="#000" font-weight="normal" text-anchor="end">10%</text>
<text x="683" y="478.8" font-family="'Liberation Sans', Arial, sans-serif" font-size="10" fill="#000" font-weight="normal" text-anchor="end">20%</text>
<text x="683" y="462.8" font-family="'Liberation Sans', Arial, sans-serif" font-size="10" fill="#000" font-weight="normal" text-anchor="end">30%</text>
<text x="683" y="446.8" font-family="'Liberation Sans', Arial, sans-serif" font-size="10" fill="#000" font-weight="normal" text-anchor="end">40%</text>
<text x="683" y="430.8" font-family="'Liberation Sans', Arial, sans-serif" font-size="10" fill="#000" font-weight="normal" text-anchor="end">50%</text>
<path d="M660.5 61.7 L696.5 61.7 L696.5 71.7 L660.5 71.7 L657.5 66.7 Z" fill="#fff" stroke="#c03030" stroke-width="1"/>
<text x="662" y="70.3" font-family="'Liberation Sans', Arial, sans-serif" font-size="10" fill="#000" font-weight="normal" text-anchor="start" textLength="32.5" lengthAdjust="spacingAndGlyphs">16.448</text>
<path d="M660.5 78.3 L689.5 78.3 L689.5 88.3 L660.5 88.3 L657.5 83.3 Z" fill="#fff" stroke="#000" stroke-width="1"/>
<text x="662" y="86.89999999999999" font-family="'Liberation Sans', Arial, sans-serif" font-size="10" fill="#000" font-weight="normal" text-anchor="start" textLength="25.5" lengthAdjust="spacingAndGlyphs">8.635</text>
<path d="M660.5 111.6 L693.5 111.6 L693.5 121.6 L660.5 121.6 L657.5 116.6 Z" fill="#fff" stroke="#5a7a9a" stroke-width="1"/>
<text x="662" y="120.19999999999999" font-family="'Liberation Sans', Arial, sans-serif" font-size="10" fill="#000" font-weight="normal" text-anchor="start" textLength="29.5" lengthAdjust="spacingAndGlyphs">-7.813</text>
<path d="M660.5 305.5 L690.5 305.5 L690.5 315.5 L660.5 315.5 L657.5 310.5 Z" fill="#fff" stroke="#22227a" stroke-width="1"/>
<text x="662" y="314.1" font-family="'Liberation Sans', Arial, sans-serif" font-size="10" fill="#000" font-weight="normal" text-anchor="start" textLength="26.5" lengthAdjust="spacingAndGlyphs">84.57</text>
<path d="M660.5 321.9 L690.5 321.9 L690.5 331.9 L660.5 331.9 L657.5 326.9 Z" fill="#fff" stroke="#000" stroke-width="1"/>
<text x="662" y="330.5" font-family="'Liberation Sans', Arial, sans-serif" font-size="10" fill="#000" font-weight="bold" text-anchor="start" textLength="26.5" lengthAdjust="spacingAndGlyphs">80.26</text>
<path d="M660.5 338.2 L690.5 338.2 L690.5 348.2 L660.5 348.2 L657.5 343.2 Z" fill="#fff" stroke="#8b1a4a" stroke-width="1"/>
<text x="662" y="346.8" font-family="'Liberation Sans', Arial, sans-serif" font-size="10" fill="#000" font-weight="normal" text-anchor="start" textLength="26.5" lengthAdjust="spacingAndGlyphs">75.93</text>
<path d="M660.5 492.2 L692.5 492.2 L692.5 502.2 L660.5 502.2 L657.5 497.2 Z" fill="#fff" stroke="#000" stroke-width="1"/>
<text x="662" y="500.8" font-family="'Liberation Sans', Arial, sans-serif" font-size="10" fill="#000" font-weight="bold" text-anchor="start" textLength="28.5" lengthAdjust="spacingAndGlyphs">6.71%</text>
</svg></body></html>
